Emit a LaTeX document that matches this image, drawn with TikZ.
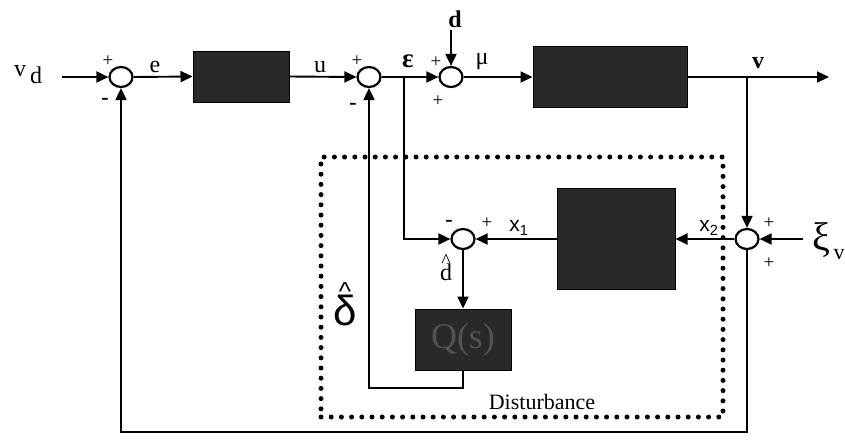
\documentclass[tikz,border=0pt]{standalone}
\usepackage{fontspec}
\setmainfont{Liberation Serif}
\newfontfamily\sansf{Liberation Sans}
\usetikzlibrary{arrows.meta,shapes.geometric}
\begin{document}
\begin{tikzpicture}[x=1pt,y=-1pt,
  sumj/.style={ellipse,draw,line width=2.2pt,minimum width=23pt,minimum height=20pt,inner sep=0pt},
  blk/.style={draw=black,fill=black!84,line width=1pt,inner sep=0pt},
  wire/.style={line width=1.9pt},
  sig/.style={line width=1.9pt,-{Triangle[length=12pt,width=11pt]}},
  lbl/.style={font=\fontsize{24}{26}\selectfont,inner sep=0pt},
  sgn/.style={font=\fontsize{19}{20}\selectfont,inner sep=0pt},
  mns/.style={font=\fontsize{22}{22}\selectfont\bfseries,inner sep=0pt},
  dotbox/.style={draw,line width=5pt,dash pattern=on 0pt off 10.2pt,line cap=round,inner sep=0pt}]
\useasboundingbox (0,0) rectangle (845,440);
% summing junctions
\node[sumj] (s1) at (121,77) {};
\node[sumj] (s2) at (369,77) {};
\node[sumj] (s3) at (451,77) {};
\node[sumj] (s4) at (747,239) {};
\node[sumj] (s5) at (463,239) {};
% blocks
\node[blk,minimum width=96pt,minimum height=51pt] (b1) at (241,76.5) {};
\node[blk,minimum width=154pt,minimum height=61pt] (b2) at (610,77) {};
\node[blk,minimum width=118pt,minimum height=101pt] (b3) at (616,239) {};
\node[blk,minimum width=96pt,minimum height=61pt,text=black!68,font=\fontsize{36}{38}\selectfont] (b4) at (463,339.5) {Q(s)};
% dotted disturbance box
\node[dotbox,minimum width=402pt,minimum height=260pt] (dist) at (522,287) {};
\node[font=\fontsize{22}{24}\selectfont,inner sep=0pt] (distl) at (542,402) {Disturbance};
% coordinates
\coordinate (vdin) at (62,77);
\coordinate (br1) at (404,77);
\coordinate (br2) at (747,77);
\coordinate (vout) at (829,77);
\coordinate (dtop) at (451,30);
\coordinate (xiin) at (803,239);
\coordinate (fb2) at (369,388);
\coordinate (fb1) at (121,432);
% connectors
\draw[sig] (vdin) -- (s1.west);
\draw[sig] (s1.east) -- (b1.west);
\draw[sig] (b1.east) -- (s2.west);
\draw[wire] (s2.east) -- (br1);
\draw[sig] (br1) -- (s3.west);
\draw[sig] (dtop) -- (s3.north);
\draw[sig] (s3.east) -- (b2.west);
\draw[wire] (b2.east) -- (br2);
\draw[sig] (br2) -- (vout);
\draw[sig] (br2) -- (s4.north);
\draw[sig] (xiin) -- (s4.east);
\draw[sig] (s4.west) -- (b3.east);
\draw[sig] (b3.west) -- (s5.east);
\draw[sig] (br1) |- (s5.west);
\draw[sig] (s5.south) -- (b4.north);
\draw[sig] (b4.south) |- (fb2) -- (s2.south);
\draw[sig] (s4.south) |- (fb1) -- (s1.south);
% labels
\node[lbl] (vdl) at (28,75) {v\,\raisebox{-7pt}{d}};
\node[sgn] (p1) at (108,61) {+};
\node[mns] (m1) at (105,101) {-};
\node[lbl] (el) at (155,67) {e};
\node[lbl] (ul) at (320,67) {u};
\node[sgn] (p2) at (357,61) {+};
\node[mns] (m2) at (353,106) {-};
\node[lbl,font=\fontsize{27}{28}\selectfont\bfseries] (epsl) at (408,61) {ε};
\node[sgn] (p3) at (436,62) {+};
\node[sgn] (p4) at (438,101) {+};
\node[lbl,font=\fontsize{24}{26}\selectfont\bfseries] (dl) at (455,19) {d};
\node[lbl] (mul) at (482,62) {μ};
\node[lbl,font=\fontsize{24}{26}\selectfont\bfseries] (vl) at (758,63) {v};
\node[sgn] (p5) at (769,223) {+};
\node[sgn] (p6) at (769,263) {+};
\node[inner sep=0pt,anchor=west] (xil) at (812,241) {\fontsize{40}{42}\selectfont ξ\raisebox{-9pt}{\fontsize{22}{22}\selectfont\,v}};
\node[inner sep=0pt,font=\sansf\fontsize{21}{22}\selectfont] (x2l) at (709,228) {x\textsubscript{2}};
\node[inner sep=0pt,font=\sansf\fontsize{21}{22}\selectfont] (x1l) at (519,228) {x\textsubscript{1}};
\node[mns] (m5) at (449,223) {-};
\node[sgn] (p7) at (487,223) {+};
\node[lbl] (dhl) at (446,272) {\ooalign{d\cr\hidewidth\raisebox{13pt}{\fontsize{20}{20}\selectfont\^{}}\hidewidth\cr}};
\node[inner sep=0pt,font=\sansf\fontsize{42}{44}\selectfont] (dell) at (345,310) {\ooalign{δ\cr\hidewidth\raisebox{25pt}{\fontsize{26}{26}\selectfont\^{}}\hidewidth\cr}};
\end{tikzpicture}
\end{document}
